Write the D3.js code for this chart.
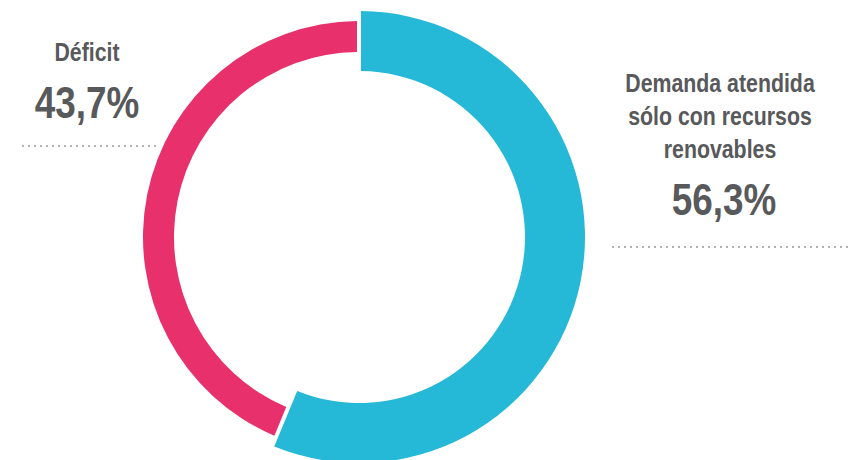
<!DOCTYPE html>
<html>
<head>
<meta charset="utf-8">
<script src="https://cdn.jsdelivr.net/npm/d3@7"></script>
<style>
  body { margin: 0; background: #fff; }
  text { font-family: "Liberation Sans", Arial, sans-serif; font-weight: bold; fill: #58595b; }
</style>
</head>
<body>
<div id="chart"></div>
<script>
// data
var categories = ["Demanda atendida sólo con recursos renovables", "Déficit"];
var values = [56.3, 43.7];
var percentLabels = ["56,3%", "43,7%"];
var nameLines = [["Demanda atendida", "sólo con recursos", "renovables"], ["Déficit"]];

var width = 859, height = 460;
var cx = 359, cy = 237;
var colors = ["#25b8d7", "#e8306d"];
var radii = [[166, 226], [185, 216]]; // inner, outer per slice
var narrow = 0.82; // squeeze text to look condensed

var svg = d3.select("#chart")
    .append("svg")
    .attr("width", width)
    .attr("height", height);

var pie = d3.pie()
    .sort(null)
    .value(function(d) { return d; })
    .padAngle(0.02);

var arcs = pie(values);

var g = svg.append("g")
    .attr("transform", "translate(" + cx + "," + cy + ")");

g.selectAll("path")
    .data(arcs)
    .enter()
    .append("path")
    .attr("fill", function(d, i) { return colors[i]; })
    .attr("d", function(d, i) {
        return d3.arc()
            .innerRadius(radii[i][0])
            .outerRadius(radii[i][1])
            .padRadius(200)(d);
    });

function label(x, y, size, t) {
    svg.append("text")
        .attr("transform", "translate(" + x + "," + y + ") scale(" + narrow + ",1)")
        .attr("text-anchor", "middle")
        .attr("font-size", size)
        .text(t);
}

function dots(x1, x2, y) {
    svg.append("line")
        .attr("x1", x1).attr("x2", x2)
        .attr("y1", y).attr("y2", y)
        .attr("stroke", "#9a9a9a")
        .attr("stroke-width", 1.5)
        .attr("stroke-dasharray", "2,4");
}

// right label (renewables)
nameLines[0].forEach(function(t, i) {
    label(720, 92 + i * 33, 26, t);
});
label(724, 215, 45, percentLabels[0]);
dots(612, 848, 247);

// left label (deficit)
label(87, 61, 26, nameLines[1][0]);
label(87, 118, 45, percentLabels[1]);
dots(22, 156, 146);
</script>
</body>
</html>
